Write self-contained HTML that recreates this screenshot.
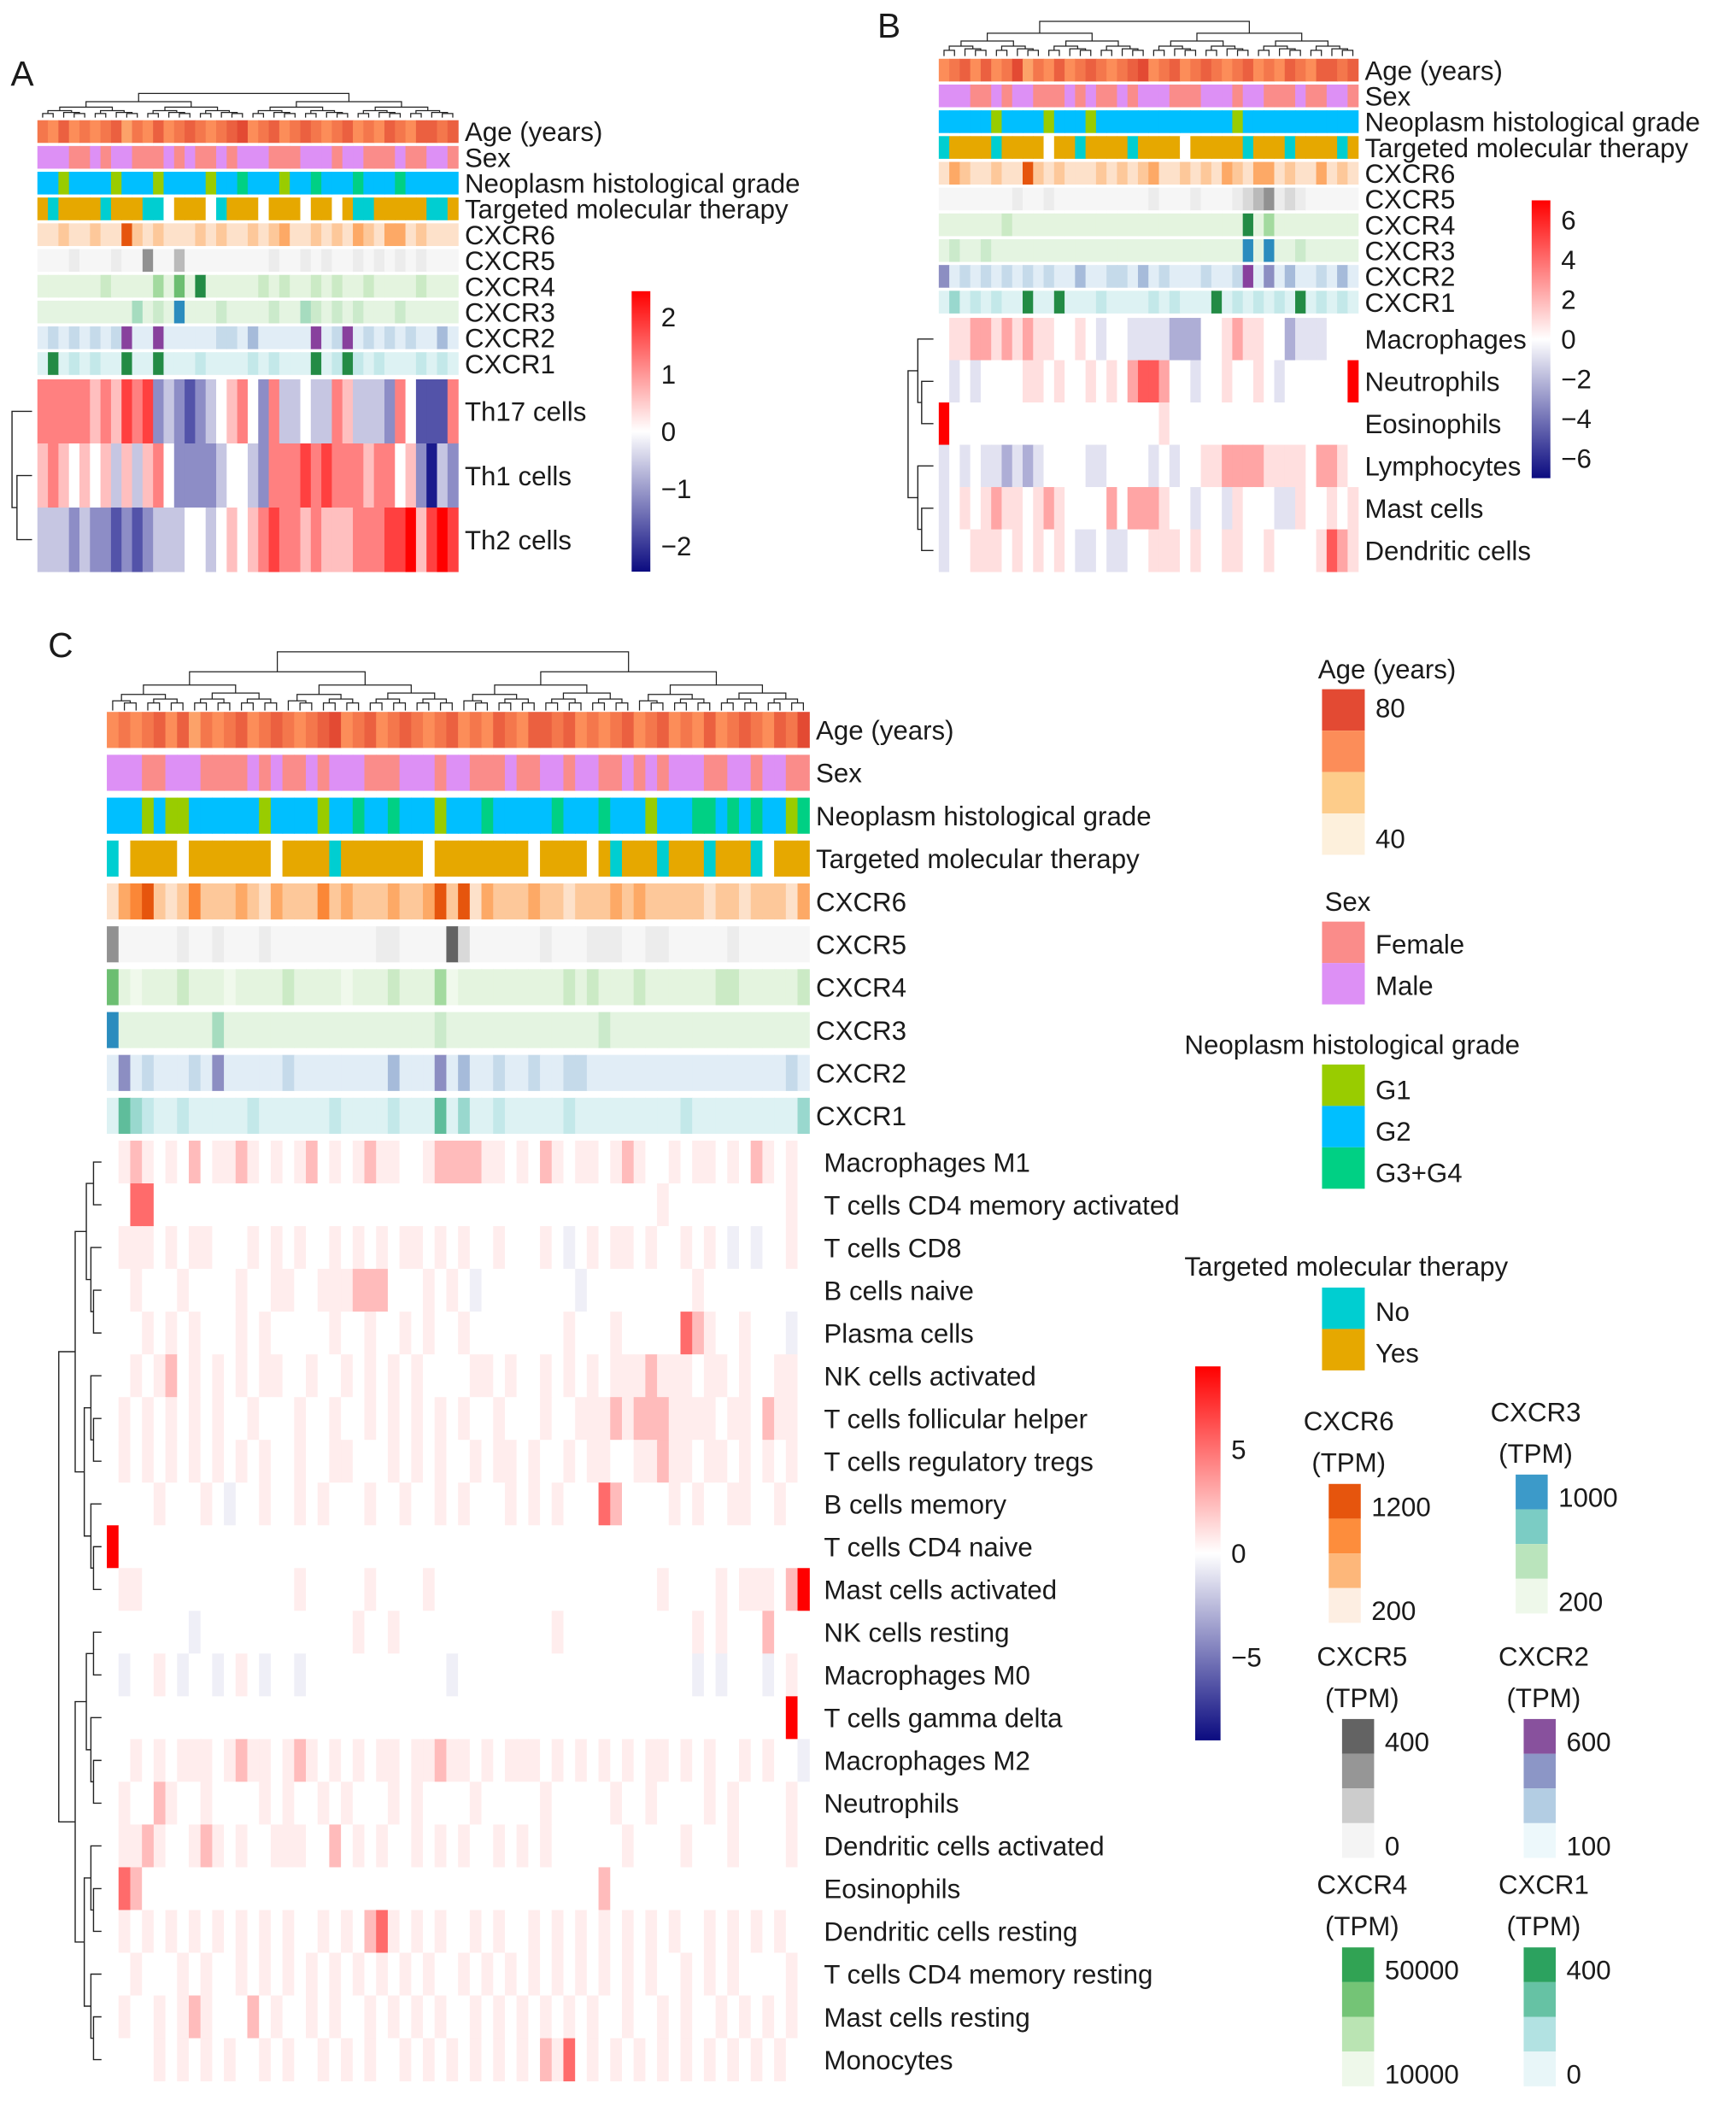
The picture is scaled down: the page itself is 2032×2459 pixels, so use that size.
<!DOCTYPE html>
<html><head><meta charset="utf-8"><style>
html,body{margin:0;padding:0;background:#fff}
svg{display:block}
text{font-family:"Liberation Sans",Arial,sans-serif;fill:#1a1a1a}
</style></head><body>
<svg id="fig" width="2032" height="2459" viewBox="0 0 1300 1573" preserveAspectRatio="none" xmlns="http://www.w3.org/2000/svg"></svg>
<script>
// ---------- DATA ----------
// Panel A (40 samples)
const aAge   = "7686767857686787678967867876786768768878";
const aSex   = "0001101001110101101000111000100111011001";
const aGrade = "2212222122212222122322212232223222322222";
const aTher  = "1011110111002111201112111211210011111001";
const aC6    = "1121121152121112121121231121213213312111";
const aC5    = "0001000100400300000000100101001010101000";
const aC4    = "1111112111131415111112121121211211112111";
const aC3    = "1111111113121511121111211321212111211111";
const aC2    = "1212121251151111122131111151251212121131";
const aC1    = "1512121151151112111121211151252121112121";
const aRowNames = ["Th17 cells","Th1 cells","Th2 cells"];
const aMain = [
 "6666656576723212345642633433653332641116",
 "5654545353564222234432666767666566452032",
 "3332322121233344345456766565556667785787"];

// Panel B (40 samples)
const bAge   = "6786867957686787678967867876786768768878";
const bSex   = "0001101001110101101000111000100111011001";
const bGrade = "2222212222122212222222222222122222222222";
const bTher  = "0111101111211011110111121111101110111101";
const bC6    = "1321121152121112121231121213213312113121";
const bC5    = "0000000100100000000010001000123412100000";
const bC4    = "1111112111111111111111111111151311111111";
const bC3    = "1211211111111111111111111111151511211111";
const bC2    = "4121212121211311221312111211251413112131";
const bC1    = "1312121151151112111121211151212121512121";
const bRowNames = ["Macrophages","Neutrophils","Eosinophils","Lymphocytes","Mast cells","Dendritic cells"];
const bMain = [
 "4556656565544543443333222445655442333444",
 "4343444455454454546776443445445434444448",
 "8444444444444444444445444444444444444444",
 "3434332323444433444434344556666555546654",
 "3454565545654444646665443443544433544545",
 "3445554545454334334455545445544544445765"];

// Panel C (60 samples)
const cAge   = "676786857678678767896786787678676876887867678678676867876879";
const cSex   = "000110001111010110100011100010011101100100110101000110010011";
const cGrade = "222121122222212222122322322212223222223222322212223323232213";
const cTher  = "021111211111112111101111111211111111211112101110111011102111";
const cC6    = "134521242223213222423222322352513222322122232322222122122213";
const cC5    = "400000100100010000000001100005200000010001110011000001000000";
const cC4    = "410111211101111211110111211130111111111212111211111122111112";
const cC3    = "511111111311111111111111111121111111111111211111111111111111";
const cC2    = "141211121411111211111111311141311211211221111111111111111121";
const cC1    = "143211211111211111121111211141311211111211111111121111111113";
const cRowNames = ["Macrophages M1","T cells CD4 memory activated","T cells CD8","B cells naive","Plasma cells","NK cells activated","T cells follicular helper","T cells regulatory tregs","B cells memory","T cells CD4 naive","Mast cells activated","NK cells resting","Macrophages M0","T cells gamma delta","Macrophages M2","Neutrophils","Dendritic cells activated","Eosinophils","Dendritic cells resting","T cells CD4 memory resting","Mast cells resting","Monocytes"];
const cMain = [
 "456545464556545456454565544566665545465455456544545545465454",
 "447744444444444444444444444444444444444444444445444444444454",
 "455545455444545454454545455454544544454345455454454543434454",
 "445444544445445544555666444545434444444434444444445444444444",
 "444545454445454444454454454544544444444544454444476544544434",
 "445456454545455445445454545444455454454545455565554554544554",
 "454545454544544454454454545454544544454455565666555545546554",
 "454545454545454454455444545454454554544545544556554554545454",
 "444454445434454454544454454454544454545444764444545445544544",
 "844444444444444444444444444444444444444444444444444444444444",
 "455444444444444454444454444544444444444444444445444454555468",
 "444444434444444444444544544444444444445444444444445454446444",
 "434454344345434434444444444443444444444444444444443434443454",
 "444444444444444444444444444444444444444444444444444444444484",
 "445454555456554565454545545565545455545454545455454544545443",
 "454465445444454544545444545444454444454444454454444545444454",
 "455654456545445554464545445454544545454444445444454445444454",
 "476444444444444444444444444444444444444444644444444444444444",
 "454545454545454544545467545454454544545454545454544545454544",
 "445444545445454545454545454544545454545454545454454545444454",
 "454454565444645445454454545454454545454545445445454454545454",
 "444454545454454544545454454545454545465745454545454545454544"];

// ---------- COLOURS ----------
function hex(c){return [parseInt(c.slice(1,3),16),parseInt(c.slice(3,5),16),parseInt(c.slice(5,7),16)];}
function mix(a,b,t){const A=hex(a),B=hex(b);return "rgb("+A.map((v,i)=>Math.round(v+(B[i]-v)*t)).join(",")+")";}
function ramp(stops,t){t=Math.max(0,Math.min(1,t));const n=stops.length-1;const i=Math.min(n-1,Math.floor(t*n));return mix(stops[i],stops[i+1],t*n-i);}
function makeDiv(p){return v=>{const d=(v-4)/4;const t=Math.pow(Math.abs(d),p);return d>=0?mix("#ffffff","#ff0000",t):mix("#ffffff","#1a1a8c",t);};}
const sq=v=>Math.pow(v/5,1.6);
const pal = {
 age:v=>ramp(["#fdf0dc","#fdcc8a","#fc8d59","#e34a33"],v/9),
 sex:v=>v=="1"?"#fa8c8a":"#dd90f5",
 grade:v=>({"1":"#99cc00","2":"#00bfff","3":"#00d084"})[v],
 ther:v=>({"0":"#00ced1","1":"#e6a800","2":"#ffffff"})[v],
 c6:v=>ramp(["#fdeee2","#fdb77a","#fd8d3c","#e6550d"],sq(v)),
 c5:v=>ramp(["#f6f6f6","#cccccc","#969696","#636363"],sq(v)),
 c4:v=>ramp(["#f0f9ec","#bae4b3","#74c476","#238b45"],sq(v)),
 c3:v=>ramp(["#f0f9ec","#bae4bc","#7bccc4","#2b8cbe"],sq(v)),
 c2:v=>ramp(["#eef7fb","#b3cde3","#8c96c6","#88419d"],sq(v)),
 c1:v=>ramp(["#eaf7f8","#b2e2e2","#66c2a4","#238b45"],sq(v))
};
const annNames=["Age (years)","Sex","Neoplasm histological grade","Targeted molecular therapy","CXCR6","CXCR5","CXCR4","CXCR3","CXCR2","CXCR1"];
const annKeys=["age","sex","grade","ther","c6","c5","c4","c3","c2","c1"];

const svg=document.getElementById("fig");
const NS="http://www.w3.org/2000/svg";
function el(tag,attrs,parent){const e=document.createElementNS(NS,tag);for(const k in attrs)e.setAttribute(k,attrs[k]);(parent||svg).appendChild(e);return e;}
function txt(x,y,s,size,parent,anchor){const t=el("text",{x:x,y:y,"font-size":size,"text-anchor":anchor||"start"},parent);t.textContent=s;return t;}

function colDendro(g,x0,x1,yTop,yBot,n){
  function rec(a,b){
    const xs=i=>x0+(i+0.5)*(x1-x0)/n;
    if(b-a<=1) return [xs(a),yBot];
    const m=Math.floor((a+b)/2);
    const L=rec(a,m),R=rec(m,b);
    const h=yBot-(yBot-yTop)*Math.pow((b-a)/n,0.6);
    el("path",{d:`M${L[0]},${L[1]}V${h}H${R[0]}V${R[1]}`,fill:"none",stroke:"#222","stroke-width":0.8},g);
    return [(L[0]+R[0])/2,h];
  }
  rec(0,n);
}
function rowDendro(g,xL,xR,ys){
  function rec(a,b){
    if(b-a<=1) return [xR,ys[a]];
    const m=Math.floor((a+b)/2);
    const T=rec(a,m),B=rec(m,b);
    const x=xR-(xR-xL)*Math.pow((b-a)/ys.length,0.7);
    el("path",{d:`M${T[0]},${T[1]}H${x}V${B[1]}H${B[0]}`,fill:"none",stroke:"#222","stroke-width":0.9},g);
    return [x,(T[1]+B[1])/2];
  }
  rec(0,ys.length);
}

function panel(cfg){
  const g=el("g",{});
  
  
  const t=txt(cfg.letter[0],cfg.letter[1],cfg.letter[2],26,g);
  
  
  const div=makeDiv(cfg.pow);
  const n=cfg.ann[0].length;
  const cw=(cfg.x1-cfg.x0)/n;
  colDendro(g,cfg.x0,cfg.x1,cfg.dTop,cfg.dBot,n);
  cfg.ann.forEach((s,r)=>{
    const y=cfg.annY+r*cfg.annStep;
    const key=annKeys[r];
    const rg=el("g",{},g);
    
    
    const cat=(key==="sex"||key==="grade"||key==="ther");
    for(let i=0;i<n;i++){
      el("rect",{x:cfg.x0+i*cw,y:y,width:cw+0.4,height:cfg.annH,fill:pal[key](cat?s[i]:+s[i])},rg);
    }
    const lb=txt(cfg.x1+5,y+cfg.annH/2+cfg.fs*0.36,annNames[r],cfg.fs,g);
    
    
  });
  const rh=(cfg.mBot-cfg.mTop)/cfg.main.length;
  const ys=[];
  cfg.main.forEach((s,r)=>{
    const y=cfg.mTop+r*rh; ys.push(y+rh/2);
    const rg=el("g",{},g);
    
    
    const m=s.length,w=(cfg.x1-cfg.x0)/m;
    for(let i=0;i<m;i++) el("rect",{x:cfg.x0+i*w,y:y,width:w+0.4,height:rh+0.3,fill:div(+s[i])},rg);
    const lb=txt(cfg.x1+cfg.labOff,y+rh/2+cfg.fs*0.36,cfg.rows[r],cfg.fs,g);
    
    
  });
  rowDendro(g,cfg.rdX0,cfg.x0-4,ys);
  const cb=el("g",{},g);
  
  
  const id="grad"+cfg.name;
  const lg=el("linearGradient",{id:id,x1:0,y1:0,x2:0,y2:1},cb);
  [["0%","#ff0000"],["50%","#ffffff"],["100%","#0b0b80"]].forEach(s=>el("stop",{offset:s[0],"stop-color":s[1]},lg));
  el("rect",{x:cfg.cb[0],y:cfg.cb[1],width:cfg.cb[2],height:cfg.cb[3],fill:`url(#${id})`},cb);
  cfg.cbTicks.forEach(tk=>{
    const yy=cfg.cb[1]+cfg.cb[3]*(cfg.cbMax-tk)/(2*cfg.cbMax);
    txt(cfg.cb[0]+cfg.cb[2]+8,yy+7,tk<0?"\u2212"+(-tk):""+tk,cfg.fs,cb);
  });
}

panel({name:"panel-a",letter:[8,64,"A"],x0:28,x1:343,dTop:70,dBot:88,annY:90,annStep:19.3,annH:17,pow:1,
  ann:[aAge,aSex,aGrade,aTher,aC6,aC5,aC4,aC3,aC2,aC1],main:aMain,rows:aRowNames,mTop:284,mBot:428,
  fs:20,labOff:5,rdX0:9,cb:[473,218,14,210],cbMax:2.45,cbTicks:[2,1,0,-1,-2]});
panel({name:"panel-b",letter:[657,28,"B"],x0:703,x1:1017,dTop:16,dBot:42,annY:44,annStep:19.3,annH:17,pow:1.5,
  ann:[bAge,bSex,bGrade,bTher,bC6,bC5,bC4,bC3,bC2,bC1],main:bMain,rows:bRowNames,mTop:238,mBot:428,
  fs:20,labOff:5,rdX0:680,cb:[1147,150,14,208],cbMax:7,cbTicks:[6,4,2,0,-2,-4,-6]});
panel({name:"panel-c",letter:[36,492,"C"],x0:80,x1:606,dTop:488,dBot:532,annY:533,annStep:32.1,annH:27,pow:1.9,
  ann:[cAge,cSex,cGrade,cTher,cC6,cC5,cC4,cC3,cC2,cC1],main:cMain,rows:cRowNames,mTop:854,mBot:1558,
  fs:20,labOff:11,rdX0:44,cb:[895,1023,19,280],cbMax:9,cbTicks:[5,0,-5]});

// ---------- Panel C legends ----------
const L=el("g",{});


function block(x,y,cols,labels,w,h){
  cols.forEach((c,i)=>el("rect",{x:x,y:y+i*h,width:w,height:h,fill:c},L));
  labels.forEach(l=>txt(x+w+8,l[1],l[0],20,L));
}
txt(987,508,"Age (years)",20,L);
block(990,516,["#e34a33","#fc8d59","#fdcc8a","#fdf0dc"],[["80",537],["40",635]],32,31);
txt(992,682,"Sex",20,L);
block(990,690,["#fa8c8a","#dd90f5"],[["Female",714],["Male",745]],32,31);
txt(887,789,"Neoplasm histological grade",20,L);
block(990,797,["#99cc00","#00bfff","#00d084"],[["G1",823],["G2",854],["G3+G4",885]],32,31);
txt(887,955,"Targeted molecular therapy",20,L);
block(990,964,["#00ced1","#e6a800"],[["No",989],["Yes",1020]],32,31);
function tpm(x,y,name,cols,hi,lo){
  txt(x+30,y,name,20,L,"middle");txt(x+30,y+31,"(TPM)",20,L,"middle");
  block(x+15,y+40,cols,[[hi,y+64],[lo,y+142]],24,26);
}
tpm(980,1071,"CXCR6",["#e6550d","#fd8d3c","#fdb77a","#fdeee2"],"1200","200");
tpm(1120,1064,"CXCR3",["#3c9ac9","#7bccc4","#bae4bc","#eef8ea"],"1000","200");
tpm(990,1247,"CXCR5",["#636363","#969696","#cccccc","#f4f4f4"],"400","0");
tpm(1126,1247,"CXCR2",["#88519d","#8c96c6","#b3cde3","#edf8fb"],"600","100");
tpm(990,1418,"CXCR4",["#31a354","#74c476","#bae4b3","#eef8ea"],"50000","10000");
tpm(1126,1418,"CXCR1",["#2ca25f","#66c2a4","#b2e2e2","#e8f6f8"],"400","0");
</script>
</body></html>
